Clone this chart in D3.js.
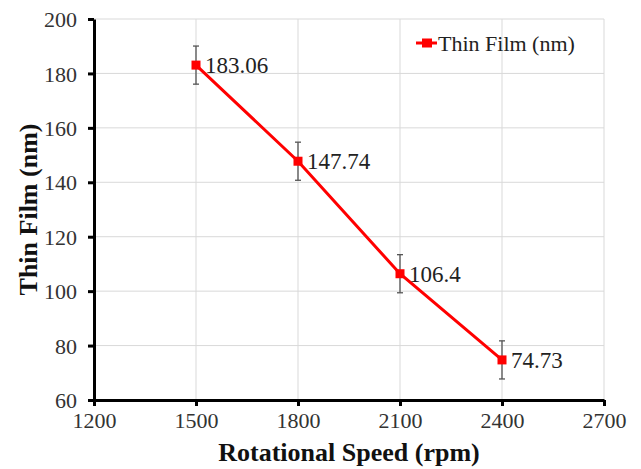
<!DOCTYPE html>
<html>
<head>
<meta charset="utf-8">
<script src="https://cdn.jsdelivr.net/npm/d3@7"></script>
<style>
  body { margin: 0; background: #fff; }
  svg text { font-family: "Liberation Serif", "Times New Roman", Times, serif !important; }
</style>
</head>
<body>
<div id="chart"></div>
<script>
const speeds = [1500, 1800, 2100, 2400];
const thickness = [183.06, 147.74, 106.4, 74.73];
const errors = [7, 7, 7, 7];
const xTicks = [1200, 1500, 1800, 2100, 2400, 2700];
const yTicks = [60, 80, 100, 120, 140, 160, 180, 200];
const seriesName = "Thin Film (nm)";

const width = 641, height = 469;
const plotLeft = 94, plotRight = 604, plotTop = 19, plotBottom = 400;
const lineColor = "#ff0000";

const svg = d3.select("#chart").append("svg")
    .attr("width", width)
    .attr("height", height);

const x = d3.scaleLinear().domain([1200, 2700]).range([plotLeft, plotRight]);
const y = d3.scaleLinear().domain([60, 200]).range([plotBottom, plotTop]);

// gridlines
svg.append("g")
    .selectAll("line")
    .data(xTicks.slice(1))
    .enter()
    .append("line")
    .attr("x1", d => x(d)).attr("x2", d => x(d))
    .attr("y1", plotTop).attr("y2", plotBottom)
    .attr("stroke", "#d9d9d9").attr("stroke-width", 1);

svg.append("g")
    .selectAll("line")
    .data(yTicks.slice(1))
    .enter()
    .append("line")
    .attr("x1", plotLeft).attr("x2", plotRight)
    .attr("y1", d => y(d)).attr("y2", d => y(d))
    .attr("stroke", "#d9d9d9").attr("stroke-width", 1);

// axes
const xAxis = svg.append("g")
    .attr("transform", `translate(0,${plotBottom})`)
    .call(d3.axisBottom(x).tickValues(xTicks).tickFormat(d3.format("d"))
        .tickSize(6).tickSizeOuter(0));
const yAxis = svg.append("g")
    .attr("transform", `translate(${plotLeft},0)`)
    .call(d3.axisLeft(y).tickValues(yTicks).tickFormat(d3.format("d"))
        .tickSize(6).tickSizeOuter(0).tickPadding(11));

[xAxis, yAxis].forEach(a => {
    a.attr("font-size", null).attr("font-family", null);
    a.select(".domain").attr("stroke", "#000").attr("stroke-width", 3);
    a.selectAll(".tick line").attr("stroke", "#000").attr("stroke-width", 3);
    a.selectAll(".tick text")
        .attr("fill", "#333")
        .style("font-size", "22px");
});
xAxis.selectAll(".tick text").attr("y", 28).attr("dy", 0);
yAxis.selectAll(".tick text").attr("dy", "0.35em");

// axis titles
svg.append("text")
    .attr("x", (plotLeft + plotRight) / 2)
    .attr("y", 461)
    .attr("text-anchor", "middle")
    .attr("font-weight", "bold")
    .style("font-size", "26px")
    .attr("fill", "#111")
    .text("Rotational Speed (rpm)");

svg.append("text")
    .attr("transform", `translate(37,${(plotTop + plotBottom) / 2}) rotate(-90)`)
    .attr("text-anchor", "middle")
    .attr("font-weight", "bold")
    .style("font-size", "26px")
    .attr("fill", "#111")
    .text("Thin Film (nm)");

const points = speeds.map((s, i) => ({ s: s, v: thickness[i], e: errors[i] }));

// error bars
const eb = svg.append("g").attr("stroke", "#555").attr("stroke-width", 1.3);
points.forEach(d => {
    eb.append("line")
        .attr("x1", x(d.s)).attr("x2", x(d.s))
        .attr("y1", y(d.v + d.e)).attr("y2", y(d.v - d.e));
    [d.v + d.e, d.v - d.e].forEach(v => {
        eb.append("line")
            .attr("x1", x(d.s) - 3).attr("x2", x(d.s) + 3)
            .attr("y1", y(v)).attr("y2", y(v));
    });
});

// line
svg.append("path")
    .datum(points)
    .attr("fill", "none")
    .attr("stroke", lineColor)
    .attr("stroke-width", 3)
    .attr("d", d3.line().x(d => x(d.s)).y(d => y(d.v)));

// markers
svg.selectAll("rect.marker")
    .data(points)
    .enter()
    .append("rect")
    .attr("class", "marker")
    .attr("x", d => x(d.s) - 4.5)
    .attr("y", d => y(d.v) - 4.5)
    .attr("width", 9)
    .attr("height", 9)
    .attr("fill", lineColor);

// data labels
svg.selectAll("text.lbl")
    .data(points)
    .enter()
    .append("text")
    .attr("class", "lbl")
    .attr("x", d => x(d.s) + 9)
    .attr("y", d => y(d.v))
    .attr("dy", "0.35em")
    .style("font-size", "23px")
    .attr("fill", "#222")
    .text(d => d.v);

// legend
const lg = svg.append("g");
lg.append("line")
    .attr("x1", 416).attr("x2", 437)
    .attr("y1", 43).attr("y2", 43)
    .attr("stroke", lineColor).attr("stroke-width", 3);
lg.append("rect")
    .attr("x", 422).attr("y", 38.5)
    .attr("width", 10).attr("height", 9)
    .attr("fill", lineColor);
lg.append("text")
    .attr("x", 438).attr("y", 43)
    .attr("dy", "0.35em")
    .style("font-size", "22px")
    .attr("fill", "#222")
    .text(seriesName);
</script>
</body>
</html>
